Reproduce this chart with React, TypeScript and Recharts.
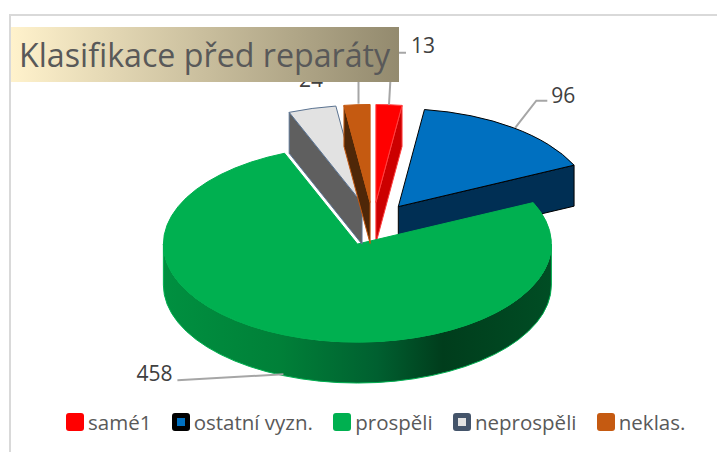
import React from "react";
import { PieChart, Pie, Legend } from "recharts";

const categories = ["samé1", "ostatní vyzn.", "prospěli", "neprospěli", "neklas."];
const values = [13, 96, 458, 24, 13];
const topColors = ["#FF0000", "#0070C0", "#00B050", "#E2E2E2", "#C55A11"];
const wallColors = ["#CC0000", "#002F54", "url(#greenWall)", "#5F5F5F", "#4F2708"];
const edgeColors = ["#FF4040", "#000000", "#00B050", "#5B7391", "#C55A11"];
const swatchOuter = ["#FF0000", "#000000", "#00B050", "#44546A", "#C55A11"];
const swatchInner = ["#FF0000", "#0070C0", "#00B050", "#E2E2E2", "#C55A11"];

const rows = categories.map((name, i) => ({ name, value: values[i], fill: topColors[i] }));

const SQUASH = 98 / 194;
const DEPTH = 41;
const EXPLODE = 0.22;
const rad = (d: number) => (d * Math.PI) / 180;

function rim(ax: number, ay: number, r: number, clock: number) {
  return [ax + r * Math.sin(rad(clock)), ay - r * SQUASH * Math.cos(rad(clock))];
}

function apex(cx: number, cy: number, r: number, mid: number) {
  return rim(cx, cy, r * EXPLODE, mid);
}

function Slice(props: any) {
  const { cx, cy, outerRadius: r, startAngle, endAngle, midAngle, index } = props;
  const a0 = 90 - startAngle;
  const a1 = 90 - endAngle;
  const mid = 90 - midAngle;
  const i = index ?? categories.indexOf(props.name);
  const [ax, ay] = apex(cx, cy, r, mid);
  const ry = r * SQUASH;
  const [sx, sy] = rim(ax, ay, r, a0);
  const [ex, ey] = rim(ax, ay, r, a1);
  const large = a1 - a0 > 180 ? 1 : 0;
  const top = `M${ax},${ay} L${sx},${sy} A${r},${ry} 0 ${large} 1 ${ex},${ey} Z`;
  const face = (x: number, y: number) =>
    `M${ax},${ay} L${x},${y} L${x},${y + DEPTH} L${ax},${ay + DEPTH} Z`;
  const walls: string[] = [];
  if (Math.sin(rad(a0)) < -1e-6) walls.push(face(sx, sy));
  if (Math.sin(rad(a1)) > 1e-6) walls.push(face(ex, ey));
  const w0 = Math.max(a0, 90);
  const w1 = Math.min(a1, 270);
  if (w1 > w0) {
    const [p, q] = rim(ax, ay, r, w0);
    const [u, v] = rim(ax, ay, r, w1);
    walls.push(
      `M${p},${q} A${r},${ry} 0 0 1 ${u},${v} L${u},${v + DEPTH} A${r},${ry} 0 0 0 ${p},${q + DEPTH} Z`
    );
  }
  return (
    <g>
      <defs>
        <linearGradient id="greenWall" x1="0" y1="0" x2="1" y2="0">
          <stop offset="0" stopColor="#009040" />
          <stop offset="0.3" stopColor="#008038" />
          <stop offset="0.55" stopColor="#006030" />
          <stop offset="0.72" stopColor="#003D1C" />
          <stop offset="1" stopColor="#004D24" />
        </linearGradient>
      </defs>
      {walls.map((d, k) => (
        <path key={k} d={d} fill={wallColors[i]} stroke={edgeColors[i]} strokeWidth={1} strokeLinejoin="round" />
      ))}
      <path d={top} fill={topColors[i]} stroke={edgeColors[i]} strokeWidth={1} strokeLinejoin="round" />
    </g>
  );
}

function SliceLabel(props: any) {
  const { cx, cy, outerRadius: r, midAngle, index, value } = props;
  const mid = 90 - midAngle;
  const [ax, ay] = apex(cx, cy, r, mid);
  const [rx, ry0] = rim(ax, ay, r, mid);
  const ry = Math.cos(rad(mid)) < 0 ? ry0 + DEPTH : ry0;
  const line = { stroke: "#A6A6A6", strokeWidth: 2, fill: "none" };
  const text = { fill: "#404040", fontSize: 21, fontFamily: "'Open Sans', sans-serif" };
  if (index === 0)
    return (
      <g>
        <polyline points={`${rx},${ry} ${rx + 3},${ry - 52} ${rx + 17},${ry - 52}`} {...line} />
        <text x={rx + 22} y={ry - 52} {...text}>{value}</text>
      </g>
    );
  if (index === 1)
    return (
      <g>
        <polyline points={`${rx + 2},${ry} ${rx + 23},${ry - 27} ${rx + 34},${ry - 27}`} {...line} />
        <text x={rx + 38} y={ry - 25} {...text}>{value}</text>
      </g>
    );
  if (index === 2)
    return (
      <g>
        <polyline points={`${rx - 3},${ry - 2} ${rx - 109},${ry + 4}`} {...line} />
        <text x={rx - 150} y={ry + 5} {...text}>{value}</text>
      </g>
    );
  if (index === 3)
    return <text x={ax - 63} y={ay - 116} {...text}>{value}</text>;
  return <polyline points={`${rx + 1.5},${ry - 1} ${rx + 1.5},${ry - 50}`} {...line} />;
}

function LegendBox({ payload }: any) {
  const items = payload ?? [];
  return (
    <div style={{ display: "flex", fontFamily: "'Open Sans', sans-serif", fontSize: 20.5, color: "#595959", lineHeight: "18px", whiteSpace: "nowrap" }}>
      {items.map((p: any, i: number) => (
        <div key={p.value} style={{ display: "flex", alignItems: "center", marginRight: 20.3 }}>
          <span
            style={{
              width: 18,
              height: 18,
              boxSizing: "border-box",
              borderRadius: 3,
              background: swatchInner[i],
              border: `${swatchInner[i] === swatchOuter[i] ? 0 : 5}px solid ${swatchOuter[i]}`,
              marginRight: 4,
            }}
          />
          <span>{p.value}</span>
        </div>
      ))}
    </div>
  );
}

export default function App() {
  return (
    <div style={{ position: "relative", width: 725, height: 452, margin: "-8px 0 0 -8px", overflow: "hidden", background: "#fff" }}>
      <div style={{ position: "absolute", left: 9, top: 14, width: 800, height: 500, border: "2px solid #D9D9D9", boxSizing: "border-box" }} />
      <div style={{ position: "absolute", left: 0, top: 0 }}>
        <PieChart width={725} height={452} margin={{ top: 0, right: 0, bottom: 0, left: 0 }}>
          <Pie
            data={rows}
            dataKey="value"
            nameKey="name"
            cx={373}
            cy={224}
            innerRadius={0}
            outerRadius={194}
            startAngle={90}
            endAngle={-270}
            stroke="none"
            isAnimationActive={false}
            shape={Slice}
            label={SliceLabel}
            labelLine={false}
          />
          <Legend
            content={LegendBox}
            itemSorter={null}
            wrapperStyle={{ position: "absolute", left: 66, top: 413, width: 655, height: 18 }}
          />
        </PieChart>
      </div>
      <div
        style={{
          position: "absolute",
          left: 11,
          top: 27,
          width: 388,
          height: 55,
          background: "linear-gradient(90deg, #FFF2CC 0%, #938A6E 100%)",
          color: "#595959",
          fontFamily: "'Open Sans', sans-serif",
          fontSize: 32.2,
          lineHeight: "56px",
          paddingLeft: 8,
          boxSizing: "border-box",
          whiteSpace: "nowrap",
        }}
      >
        Klasifikace před reparáty
      </div>
    </div>
  );
}
